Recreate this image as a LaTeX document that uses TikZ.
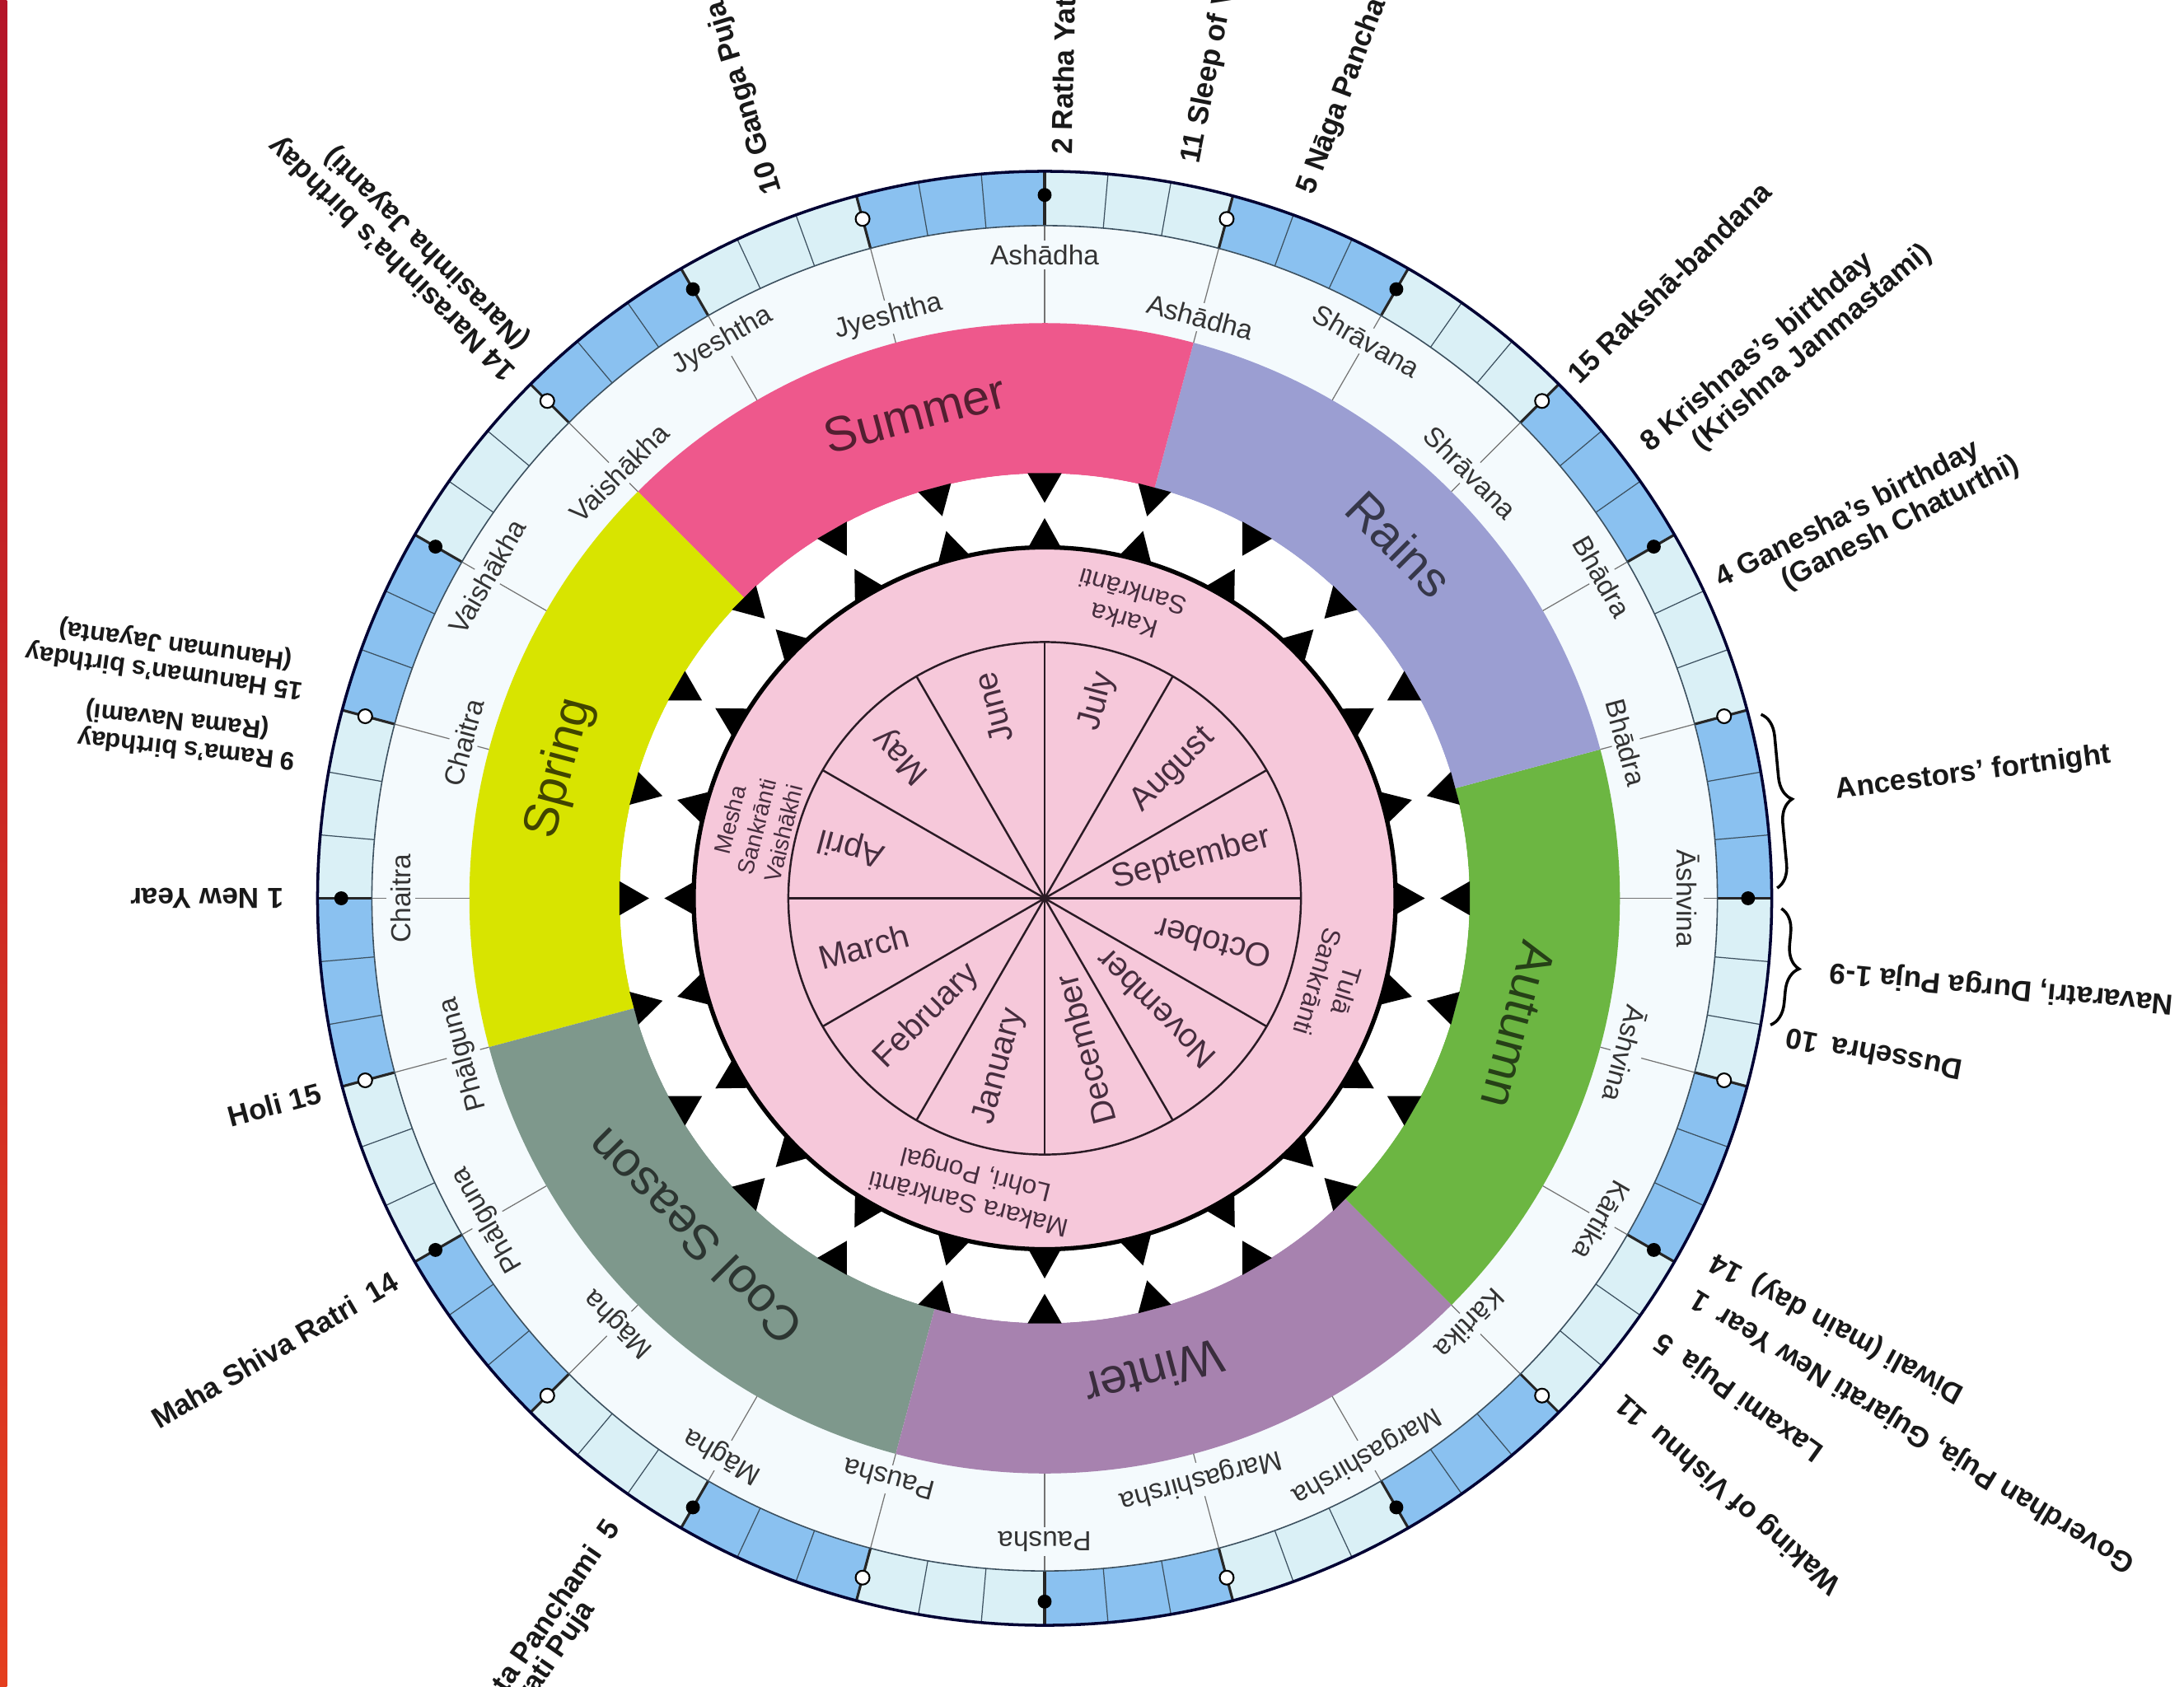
\documentclass[tikz,border=0pt]{standalone}
\usepackage{fontspec}
\setmainfont{Liberation Sans}
\usetikzlibrary{decorations.pathreplacing,calc}
\definecolor{cellblue}{RGB}{138,193,240}
\definecolor{celllight}{RGB}{218,240,246}
\definecolor{ringbg}{RGB}{244,250,253}
\definecolor{summerc}{RGB}{238,88,140}
\definecolor{rainsc}{RGB}{155,158,210}
\definecolor{autumnc}{RGB}{108,182,66}
\definecolor{winterc}{RGB}{167,130,175}
\definecolor{coolc}{RGB}{126,152,140}
\definecolor{springc}{RGB}{216,228,0}
\definecolor{pinkdisk}{RGB}{246,200,218}
\definecolor{inktext}{RGB}{70,45,62}
\definecolor{lbl}{RGB}{25,25,25}
\definecolor{cellline}{RGB}{60,80,95}
\begin{document}
\begin{tikzpicture}[x=0.016907cm,y=0.016907cm,
  fest/.style={font=\fontsize{10}{12}\selectfont\bfseries, text=lbl, inner sep=0.5pt},
  festsmall/.style={fest, font=\fontsize{8.8}{10.5}\selectfont\bfseries},
  mring/.style={font=\fontsize{9.5}{11}\selectfont, text=black!80, fill=ringbg, inner sep=1.5pt},
  season/.style={font=\fontsize{17}{20}\selectfont},
  imonth/.style={font=\fontsize{11.5}{13}\selectfont, text=inktext, inner sep=0pt},
  sank/.style={font=\fontsize{9}{10.5}\selectfont, text=inktext, align=center, inner sep=0pt},
  bracestyle/.style={decorate, decoration={brace, amplitude=8pt}, line width=1pt, black}
]
\fill[white] (-750,-566) rectangle (818,645);
\useasboundingbox (-750,-566) rectangle (818,645);
\shade[top color={rgb,255:red,180;green,20;blue,40}, bottom color={rgb,255:red,228;green,62;blue,30}] (-750,-566) rectangle (-745,645);

% day cells ring
\foreach \a in {0,30,...,330}{
  \fill[cellblue] (\a:522) arc[start angle=\a, end angle=\a+15, radius=522] -- ({\a+15}:483) arc[start angle=\a+15, end angle=\a, radius=483] -- cycle;
  \fill[celllight] ({\a+15}:522) arc[start angle=\a+15, end angle=\a+30, radius=522] -- ({\a+30}:483) arc[start angle=\a+30, end angle=\a+15, radius=483] -- cycle;
}
% month-name ring
\fill[ringbg] (0,0) circle (483);
% seasons
\fill[autumnc] (-45:413) arc[start angle=-45, end angle=15, radius=413] -- (15:305) arc[start angle=15, end angle=-45, radius=305] -- cycle;
\fill[rainsc] (15:413) arc[start angle=15, end angle=75, radius=413] -- (75:305) arc[start angle=75, end angle=15, radius=305] -- cycle;
\fill[summerc] (75:413) arc[start angle=75, end angle=135, radius=413] -- (135:305) arc[start angle=135, end angle=75, radius=305] -- cycle;
\fill[springc] (135:413) arc[start angle=135, end angle=195, radius=413] -- (195:305) arc[start angle=195, end angle=135, radius=305] -- cycle;
\fill[coolc] (195:413) arc[start angle=195, end angle=255, radius=413] -- (255:305) arc[start angle=255, end angle=195, radius=305] -- cycle;
\fill[winterc] (255:413) arc[start angle=255, end angle=315, radius=413] -- (315:305) arc[start angle=315, end angle=255, radius=305] -- cycle;
% triangle ring and pink disk
\fill[white] (0,0) circle (305);
\fill[pinkdisk] (0,0) circle (252);
\foreach \a in {0,15,...,345}{
  \fill[black] ({\a-2.3}:305.5) -- ({\a+2.3}:305.5) -- (\a:284) -- cycle;
  \fill[black] ({\a-2.7}:252) -- ({\a+2.7}:252) -- (\a:273) -- cycle;
}
\draw[line width=1.5pt, black] (0,0) circle (252);
\draw[line width=0.7pt, inktext!60!black] (0,0) circle (184);
\foreach \a in {0,30,...,330} \draw[line width=0.7pt, inktext!60!black] (0,0) -- (\a:184);

% radial lines in month ring
\foreach \a in {0,15,...,345} \draw[black!55, line width=0.35pt] (\a:413) -- (\a:483);
% cell dividers
\foreach \a in {0,5,...,355} \draw[cellline, line width=0.35pt] (\a:483) -- (\a:522);
\foreach \a in {0,15,...,345} \draw[black!85, line width=0.9pt] (\a:483) -- (\a:522);
\draw[line width=1pt, black!80!blue] (0,0) circle (522);
\draw[line width=0.45pt, cellline] (0,0) circle (483);
% moon markers
\foreach \a in {0,30,...,330} \fill[black] (\a:505) circle (5);
\foreach \a in {15,45,...,345} \filldraw[fill=white, draw=black, line width=0.6pt] (\a:505) circle (5);

% month names in ring
\foreach \a/\t/\r in {0/Āshvina/462, 15/Bhādra/432, 30/Bhādra/462, 45/Shrāvana/432, 60/Shrāvana/462, 75/Ashādha/432, 90/Ashādha/462, 105/Jyeshtha/432, 120/Jyeshtha/462, 135/Vaishākha/432, 150/Vaishākha/462, 165/Chaitra/432, 180/Chaitra/462, 195/Phālguna/432, 210/Phālguna/462, 225/Māgha/432, 240/Māgha/462, 255/Pausha/432, 270/Pausha/462, 285/Margashirsha/432, 300/Margashirsha/462, 315/Kārtika/432, 330/Kārtika/462, 345/Āshvina/432}
  \node[mring, rotate=\a-90] (mr\a) at (\a:\r) {\t};

% season labels
\node[season, text=summerc!35!black, rotate=15] (sSummer) at (105:360) {Summer};
\node[season, text=rainsc!35!black, rotate=-45] (sRains) at (45:360) {Rains};
\node[season, text=autumnc!35!black, rotate=-105] (sAutumn) at (-15:352) {Autumn};
\node[season, text=winterc!35!black, rotate=195] (sWinter) at (283:350) {Winter};
\node[season, text=coolc!35!black, rotate=135] (sCool) at (224:350) {Cool Season};
\node[season, text=springc!30!black, rotate=75] (sSpring) at (165:360) {Spring};

% Gregorian months
\foreach \a/\t in {15/September,45/August,75/July,105/June,135/May,165/April}
  \node[imonth, anchor=east, rotate=\a] (im\a) at (\a:168) {\t};
\foreach \a/\t in {195/March,225/February,255/January,285/December,315/November,345/October}
  \node[imonth, anchor=west, rotate=\a-180] (im\a) at (\a:168) {\t};

% sankranti labels
\node[sank, rotate=164] (skarka) at (74:218) {Karka\\Sankrānti};
\node[sank, rotate=-107] (stula) at (-17:216) {Tulā\\Sankrānti};
\node[sank, rotate=166] (smakara) at (256:214) {Makara Sankrānti\\Lohri, Pongal};
\node[sank, rotate=76, font=\fontsize{8}{9.5}\selectfont] (smesha) at (166:213) {Mesha\\Sankrānti\\Vaishākhi};

% festival labels, reading outward
\node[fest, anchor=west, rotate=88.7] (f02) at (88.7:533) {2 Ratha Yatra};
\node[fest, anchor=west, rotate=78.7] (f11) at (78.7:537) {11 Sleep of Vishnu};
\node[fest, anchor=west, rotate=69.6] (f05) at (69.6:539) {5 Nāga Panchami};
\node[fest, anchor=west, rotate=44.6] (f15) at (44.6:531) {15 Rakshā-bandana};
\node[fest, anchor=west, rotate=40] (f08) at (36.9:538) {8 Krishnas's birthday};
\node[fest, anchor=north west, rotate=40] (f08b) at ($(f08.south west)!14pt!(f08.south east)$) {(Krishna Janmastami)};
\node[fest, anchor=west, rotate=27] (f04) at (25.2:533) {4 Ganesha's birthday};
\node[fest, anchor=north west, rotate=27] (f04b) at ($(f04.south west)!20pt!(f04.south east)$) {(Ganesh Chaturthi)};
\node[fest, anchor=west, rotate=107] (f10) at (111:541) {10 Ganga Puja};
\node[fest, anchor=west, rotate=135.5] (f14) at (135.5:535) {14 Narasimha's birthday};
\node[fest, anchor=north west, rotate=135.5] (f14b) at ($(f14.south west)!4pt!(f14.south east)$) {(Narasimha Jayanti)};
\node[festsmall, anchor=west, rotate=172] (fhan) at (164.3:552) {15 Hanuman's birthday};
\node[festsmall, anchor=north west, rotate=172] (fhanb) at ($(fhan.south west)!5pt!(fhan.south east)$) {(Hanuman Jayanta)};
\node[festsmall, anchor=west, rotate=174] (frama) at (169.5:546) {9 Rama's birthday};
\node[festsmall, anchor=north west, rotate=174] (framab) at ($(frama.south west)!10pt!(frama.south east)$) {(Rama Navami)};
\node[fest, anchor=west, rotate=180] (fny) at (180:545) {1 New Year};
% brace labels
\coordinate (b1s) at (14.4:531);
\coordinate (b1e) at (0.8:526);
\draw[bracestyle] (b1s) -- (b1e);
\node[fest, anchor=west, rotate=7.5] (fanc) at (7.7:572) {Ancestors' fortnight};
\coordinate (b2s) at (-0.8:529);
\coordinate (b2e) at (-9.9:529);
\draw[bracestyle] (b2s) -- (b2e);
\node[fest, anchor=east, rotate=174.7] (fnav) at (-5.3:565) {Navaratri, Durga Puja 1-9};
% festival labels, reading inward
\node[fest, anchor=east, rotate=15] (fholi) at (195:537) {Holi 15};
\node[fest, anchor=east, rotate=30.4] (fmsr) at (210.4:539) {Maha Shiva Ratri\enspace 14};
\node[fest, anchor=east, rotate=55.3] (fvp) at (235.3:544) {Vasanta Panchami\enspace 5};
\node[fest, anchor=north west, rotate=55.3] (fvpb) at (fvp.south west) {Saraswati Puja};
\node[fest, anchor=east, rotate=139] (fwv) at (319:547) {Waking of Vishnu\enspace 11};
\node[fest, anchor=east, rotate=144.4] (flp) at (324.4:541) {Laxami Puja\enspace 5};
\node[fest, anchor=east, rotate=148.5] (fgp) at (328.5:545) {Goverdhan Puja, Gujarati New Year\enspace 1};
\node[fest, anchor=east, rotate=151.5] (fdw) at (331.6:544) {Diwali (main day)\enspace 14};
\node[fest, anchor=east, rotate=169.5] (fds) at (-10.7:540) {Dussehra\enspace 10};
\end{tikzpicture}
\end{document}
